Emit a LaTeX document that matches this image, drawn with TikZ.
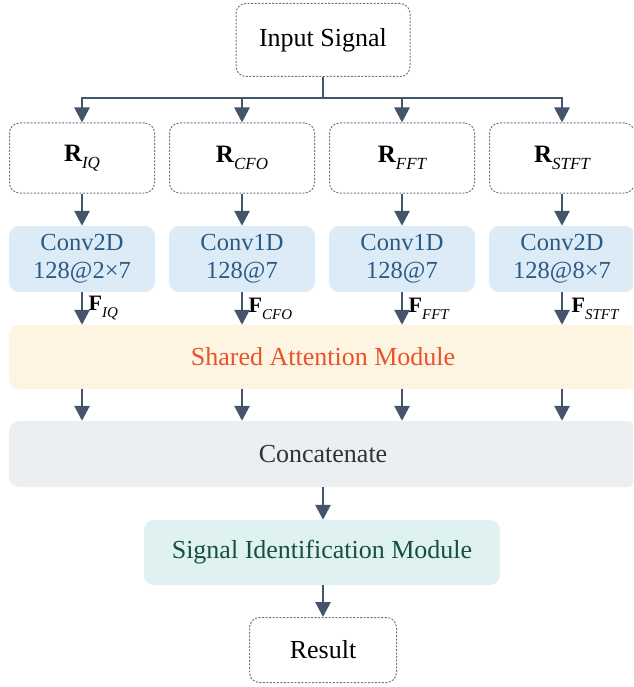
\documentclass[tikz,border=0pt]{standalone}
\usepackage{fontspec}
\setmainfont{Liberation Serif}
\usetikzlibrary{arrows.meta,positioning,calc}
\definecolor{arrowc}{HTML}{44546A}
\definecolor{dashc}{HTML}{66768A}
\definecolor{convfill}{HTML}{DDEBF6}
\definecolor{convtext}{HTML}{2A5A86}
\definecolor{attfill}{HTML}{FEF4E2}
\definecolor{atttext}{HTML}{E8532B}
\definecolor{catfill}{HTML}{ECEFF1}
\definecolor{cattext}{HTML}{2E3338}
\definecolor{idfill}{HTML}{DFF1F0}
\definecolor{idtext}{HTML}{17503C}
\newcommand{\rlab}[1]{{\fontsize{25}{30}\selectfont\bfseries R}\raisebox{-7pt}{\fontsize{17}{17}\selectfont\itshape #1}}
\newcommand{\flab}[1]{{\fontsize{22}{26}\selectfont\bfseries F}\raisebox{-7pt}{\fontsize{15}{15}\selectfont\itshape #1}}

\begin{document}
\begin{tikzpicture}[x=1pt,y=-1pt]
\tikzset{every node/.style={font=\fontsize{26}{30}\selectfont}}
\tikzset{dashbox/.style={draw=dashc,dash pattern=on 2pt off 1.5pt,line width=1pt,
rounded corners=10pt,align=center,inner sep=0pt}}
\tikzset{fillbox/.style={rounded corners=10pt,align=center,inner sep=0pt}}
\tikzset{convbox/.style={fillbox,fill=convfill,text=convtext,minimum width=146pt,minimum height=66pt,
font=\fontsize{24.5}{28}\selectfont}}
\tikzset{arr/.style={draw=arrowc,line width=2.7pt,-{Triangle[width=15pt,length=15pt]}}}
\tikzset{line/.style={draw=arrowc,line width=2.7pt}}
\useasboundingbox (0,0) rectangle (633,687);
\clip (0,0) rectangle (633,687);
% top
\node[dashbox,minimum width=174pt,minimum height=73pt] (input) at (323,40) {Input Signal};
\coordinate (split) at (323,98);
% representations
\node[dashbox,minimum width=145pt,minimum height=70pt] (rIQ) at (82,158) {\rlab{IQ}};
\node[dashbox,minimum width=145pt,minimum height=70pt] (rCFO) at (242,158) {\rlab{CFO}};
\node[dashbox,minimum width=145pt,minimum height=70pt] (rFFT) at (402,158) {\rlab{FFT}};
\node[dashbox,minimum width=145pt,minimum height=70pt] (rSTFT) at (562,158) {\rlab{STFT}};
% conv layers
\node[convbox] (cIQ) at (82,259) {Conv2D\\128@2×7};
\node[convbox] (cCFO) at (242,259) {Conv1D\\128@7};
\node[convbox] (cFFT) at (402,259) {Conv1D\\128@7};
\node[convbox] (cSTFT) at (562,259) {Conv2D\\128@8×7};
% modules
\node[fillbox,fill=attfill,text=atttext,minimum width=628pt,minimum height=64pt] (att) at (323,357) {Shared Attention Module};
\node[fillbox,fill=catfill,text=cattext,minimum width=628pt,minimum height=66pt] (cat) at (323,454) {Concatenate};
\node[fillbox,fill=idfill,text=idtext,minimum width=356pt,minimum height=65pt] (sid) at (322,552.5) {Signal Identification Module};
\node[dashbox,minimum width=147pt,minimum height=65pt] (res) at (323,650) {Result};
% connectors
\draw[line] (input.south) -- (split);
\draw[arr] (split) -| (rIQ.north);
\draw[arr] (split) -| (rCFO.north);
\draw[arr] (split) -| (rFFT.north);
\draw[arr] (split) -| (rSTFT.north);
\draw[arr] (rIQ) -- (cIQ);
\draw[arr] (rCFO) -- (cCFO);
\draw[arr] (rFFT) -- (cFFT);
\draw[arr] (rSTFT) -- (cSTFT);
\draw[arr] (cIQ.south) -- (cIQ.south |- att.north) node[midway,right=2pt] {\flab{IQ}};
\draw[arr] (cCFO.south) -- (cCFO.south |- att.north) node[midway,right=2pt] {\flab{CFO}};
\draw[arr] (cFFT.south) -- (cFFT.south |- att.north) node[midway,right=2pt] {\flab{FFT}};
\draw[arr] (cSTFT.south) -- (cSTFT.south |- att.north) node[midway,right=5pt] {\flab{STFT}};
\draw[arr] (cIQ.south |- att.south) -- (cIQ.south |- cat.north);
\draw[arr] (cCFO.south |- att.south) -- (cCFO.south |- cat.north);
\draw[arr] (cFFT.south |- att.south) -- (cFFT.south |- cat.north);
\draw[arr] (cSTFT.south |- att.south) -- (cSTFT.south |- cat.north);
\draw[arr] (cat.south -| input.south) -- (sid.north -| input.south);
\draw[arr] (sid.south -| input.south) -- (res.north);
\end{tikzpicture}
\end{document}
